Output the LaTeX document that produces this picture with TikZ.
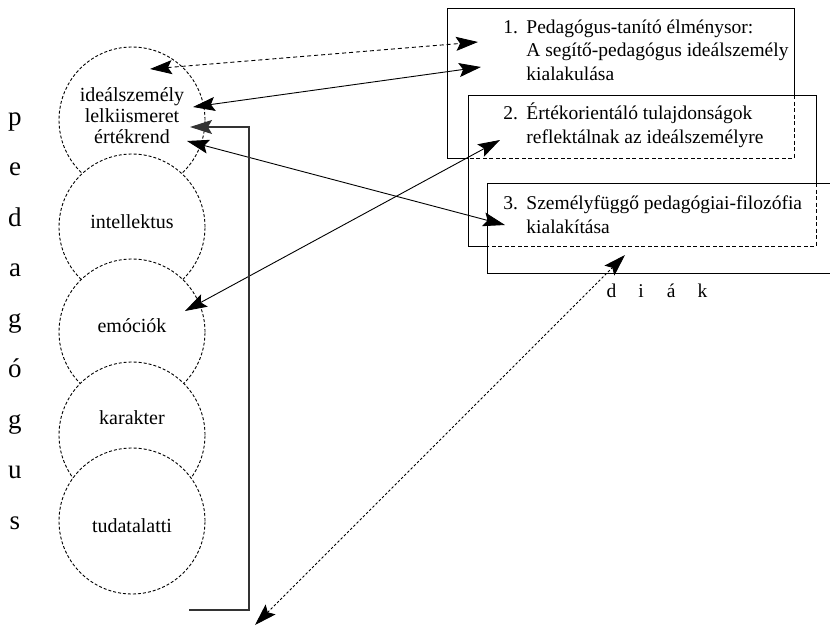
\documentclass[tikz,border=0pt]{standalone}
\usepackage{fontspec}
\setmainfont{Liberation Serif}
\usetikzlibrary{arrows.meta}

\tikzset{
    layer/.style={draw, fill=white, line width=0.9pt, dash pattern=on 3pt off 2pt},
    circtext/.style={align=center, inner sep=0pt, font=\fontsize{20}{21}\selectfont},
    boxtext/.style={anchor=base west, align=left, inner sep=0pt, font=\fontsize{19.5}{23.5}\selectfont},
    boxdash/.style={dash pattern=on 4pt off 2.5pt},
    bracket/.style={line width=1.2pt, black!80},
}

\begin{document}
\begin{tikzpicture}[x=1pt, y=-1pt, line width=0.9pt, >={Stealth[length=22pt,width=14pt,inset=4pt]}]
                \useasboundingbox (0,0) rectangle (830,629);

                % pedagógus rétegei
                \draw[layer] (132,120) circle (73pt);
                \draw[layer] (132,227) circle (73pt);
                \draw[layer] (132,332) circle (73pt);
                \draw[layer] (132,435) circle (73pt);
                \draw[layer] (132,521) circle (73pt);

                \node[circtext] (IDEAL) at (132,116) {ideálszemély\\lelkiismeret\\értékrend};
                \node[circtext] (INTEL) at (132,222) {intellektus};
                \node[circtext] (EMO) at (132,326) {emóciók};
                \node[circtext] (KAR) at (132,418) {karakter};
                \node[circtext] (TUD) at (132,526) {tudatalatti};

                \foreach \l [count=\i] in {p,e,d,a,g,ó,g,u,s}
                    \node[anchor=base, font=\fontsize{27}{27}\selectfont] (PED\i) at (15,{125+50.5*(\i-1)}) {\l};

                % dobozok
                \draw (468,158) -- (447,158) -- (447,8) -- (794,8) -- (794,95);
                \draw[boxdash] (794,95) -- (794,158) -- (468,158);
                \draw (487,246) -- (468,246) -- (468,95) -- (816,95) -- (816,183);
                \draw[boxdash] (816,183) -- (816,246) -- (487,246);
                \draw (830,183) -- (487,183) -- (487,273) -- (830,273);

                % alapvonal: az utolsó sor
                \node[boxtext] (T1) at (503,80) {\makebox[23pt][l]{1.}Pedagógus-tanító élménysor:\\\hspace*{23pt}A segítő-pedagógus ideálszemély\\\hspace*{23pt}kialakulása};
                \node[boxtext] (T2) at (503,143) {\makebox[23pt][l]{2.}Értékorientáló tulajdonságok\\\hspace*{23pt}reflektálnak az ideálszemélyre};
                \node[boxtext] (T3) at (503,233) {\makebox[23pt][l]{3.}Személyfüggő pedagógiai-filozófia\\\hspace*{23pt}kialakítása};

                \node[anchor=base, font=\fontsize{19.5}{19.5}\selectfont] (DIAK) at (657,297) {d\hspace{22pt}i\hspace{23pt}á\hspace{22pt}k};

                % nyilak
                \coordinate (A1) at (150,69);
                \coordinate (A2) at (478,42);
                \coordinate (B1) at (193,107);
                \coordinate (B2) at (481,67);
                \coordinate (C1) at (187,141);
                \coordinate (C2) at (505,225);
                \coordinate (D1) at (185,311);
                \coordinate (D2) at (500,140);
                \coordinate (E1) at (255,625);
                \coordinate (E2) at (625,255);
                \coordinate (K1) at (189,610);
                \coordinate (K2) at (249,127);
                \coordinate (K3) at (190,127);

                \draw[<->, dash pattern=on 4pt off 3pt] (A1) -- (A2);
                \draw[<->] (B1) -- (B2);
                \draw[<->] (C1) -- (C2);
                \draw[<->] (D1) -- (D2);
                \draw[<->, dash pattern=on 2.5pt off 2pt] (E1) -- (E2);
                \draw[->, bracket] (K1) -| (K2) -- (K3);
            \end{tikzpicture}
\end{document}
